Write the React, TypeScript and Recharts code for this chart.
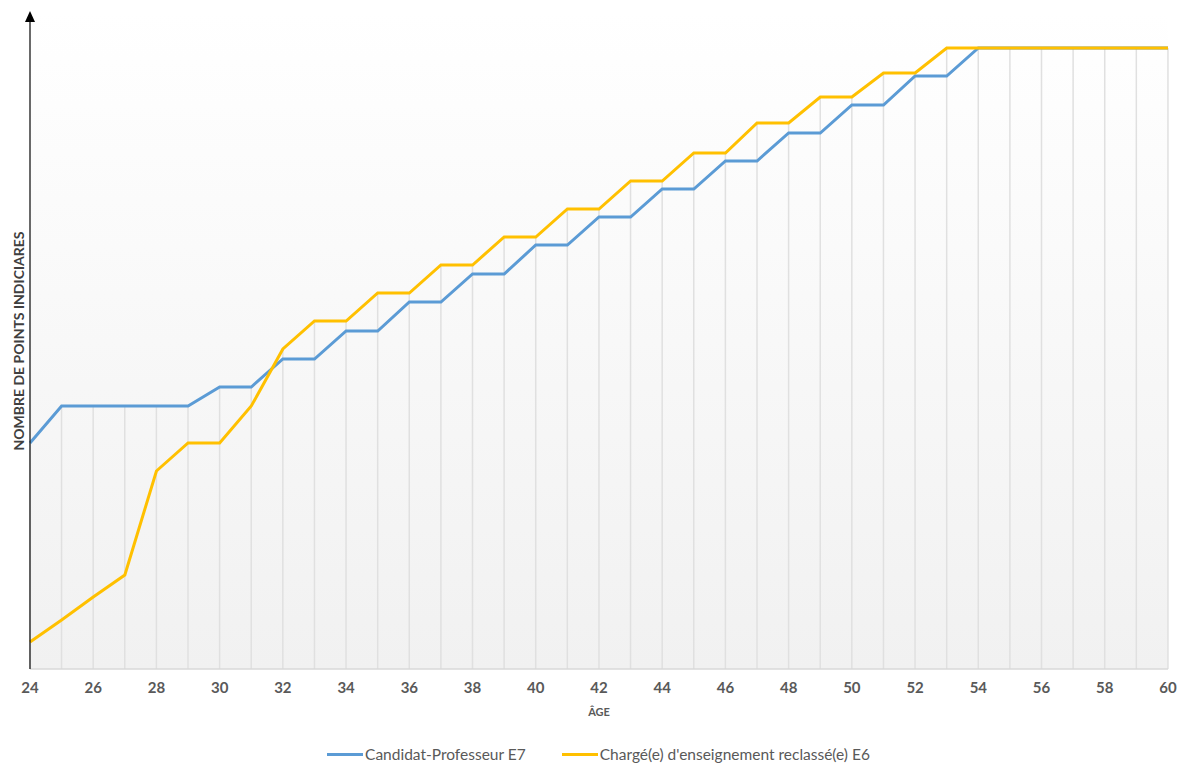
import { ComposedChart, Line, Bar, XAxis, YAxis, CartesianGrid, Legend } from "recharts";

const AGES = [
  24, 25, 26, 27, 28, 29, 30, 31, 32, 33, 34, 35, 36, 37, 38, 39, 40, 41, 42,
  43, 44, 45, 46, 47, 48, 49, 50, 51, 52, 53, 54, 55, 56, 57, 58, 59, 60,
];

// Candidat-Professeur E7 (relative index points)
const E7 = [
  226, 263, 263, 263, 263, 263, 282, 282, 310, 310, 338, 338, 367, 367, 395,
  395, 424, 424, 452, 452, 480, 480, 508, 508, 536, 536, 564, 564, 593, 593,
  621, 621, 621, 621, 621, 621, 621,
];

// Chargé(e) d'enseignement reclassé(e) E6
const E6 = [
  27, 49, 72, 94, 198, 226, 226, 263, 320, 348, 348, 376, 376, 404, 404, 432,
  432, 460, 460, 488, 488, 516, 516, 546, 546, 572, 572, 596, 596, 621, 621,
  621, 621, 621, 621, 621, 621,
];

const X_LABELS = [24, 26, 28, 30, 32, 34, 36, 38, 40, 42, 44, 46, 48, 50, 52, 54, 56, 58, 60];

const SERIES = [
  { key: "e7", name: "Candidat-Professeur E7", color: "#5b9bd5" },
  { key: "e6", name: "Chargé(e) d'enseignement reclassé(e) E6", color: "#ffc000" },
];

// drop lines go from the highest series down to the axis
const data = AGES.map((age, i) => ({ age, e7: E7[i], e6: E6[i], drop: Math.max(E7[i], E6[i]) }));

const FONT = "Lato, 'Open Sans', sans-serif";

function YTitle(props: any) {
  const { x, y, width, height } = props.viewBox;
  const ax = x + width;
  const bottom = y + height;
  return (
    <g>
      <line x1={ax} y1={bottom} x2={ax} y2={y + 6} stroke="#1a1a1a" strokeWidth={1.3} />
      <path d={`M ${ax - 5} ${y + 10} L ${ax + 5} ${y + 10} L ${ax} ${y - 1} Z`} fill="#000" />
      <text
        x={18}
        y={341}
        transform="rotate(-90 18 341)"
        textAnchor="middle"
        dominantBaseline="central"
        fontFamily={FONT}
        fontWeight={700}
        fontSize={14}
        fill="#404040"
      >
        NOMBRE DE POINTS INDICIARES
      </text>
    </g>
  );
}

function XTitle(props: any) {
  const { x, y, width } = props.viewBox;
  return (
    <text
      x={x + width / 2}
      y={y + 47}
      textAnchor="middle"
      fontFamily={FONT}
      fontWeight={700}
      fontSize={11}
      fill="#595959"
    >
      ÂGE
    </text>
  );
}

function LegendContent() {
  return (
    <div
      style={{
        display: "flex",
        justifyContent: "center",
        gap: 36,
        fontFamily: FONT,
        fontSize: 15.5,
        color: "#595959",
        lineHeight: "24px",
        marginTop: 3,
      }}
    >
      {SERIES.map((s) => (
        <div key={s.key} style={{ display: "flex", alignItems: "center" }}>
          <span
            style={{
              display: "inline-block",
              width: 36,
              height: 3,
              background: s.color,
              marginRight: 2,
            }}
          />
          {s.name}
        </div>
      ))}
    </div>
  );
}

export default function App() {
  return (
    <div style={{ position: "absolute", left: 0, top: 0, background: "#fff" }}>
      <ComposedChart
        width={1184}
        height={763}
        data={data}
        margin={{ top: 12, right: 16, left: 29, bottom: 0 }}
      >
        <defs>
          <linearGradient id="plotBg" x1="0" y1="0" x2="0" y2="1">
            <stop offset="0%" stopColor="#ffffff" />
            <stop offset="100%" stopColor="#f1f1f1" />
          </linearGradient>
        </defs>
        <CartesianGrid
          horizontal={false}
          vertical={false}
          fill="url(#plotBg)"
          fillOpacity={1}
        />
        <XAxis
          dataKey="age"
          type="number"
          domain={[24, 60]}
          ticks={X_LABELS}
          interval={0}
          tickLine={false}
          tickSize={6}
          tickMargin={7}
          height={70}
          axisLine={{ stroke: "#d9d9d9", strokeWidth: 1.5 }}
          tick={{ fontFamily: FONT, fontWeight: 700, fontSize: 15, fill: "#595959" }}
          label={{ content: XTitle }}
        />
        <YAxis
          type="number"
          domain={[0, 657]}
          width={1}
          tick={false}
          tickLine={false}
          axisLine={false}
          label={{ content: YTitle }}
        />
        <Legend verticalAlign="bottom" height={24} content={LegendContent} />
        <Bar
          dataKey="drop"
          barSize={1.5}
          fill="#e0e0e0"
          legendType="none"
          isAnimationActive={false}
        />
        {SERIES.map((s) => (
          <Line
            key={s.key}
            type="linear"
            dataKey={s.key}
            name={s.name}
            stroke={s.color}
            strokeWidth={3}
            dot={false}
            activeDot={false}
            isAnimationActive={false}
          />
        ))}
      </ComposedChart>
    </div>
  );
}
